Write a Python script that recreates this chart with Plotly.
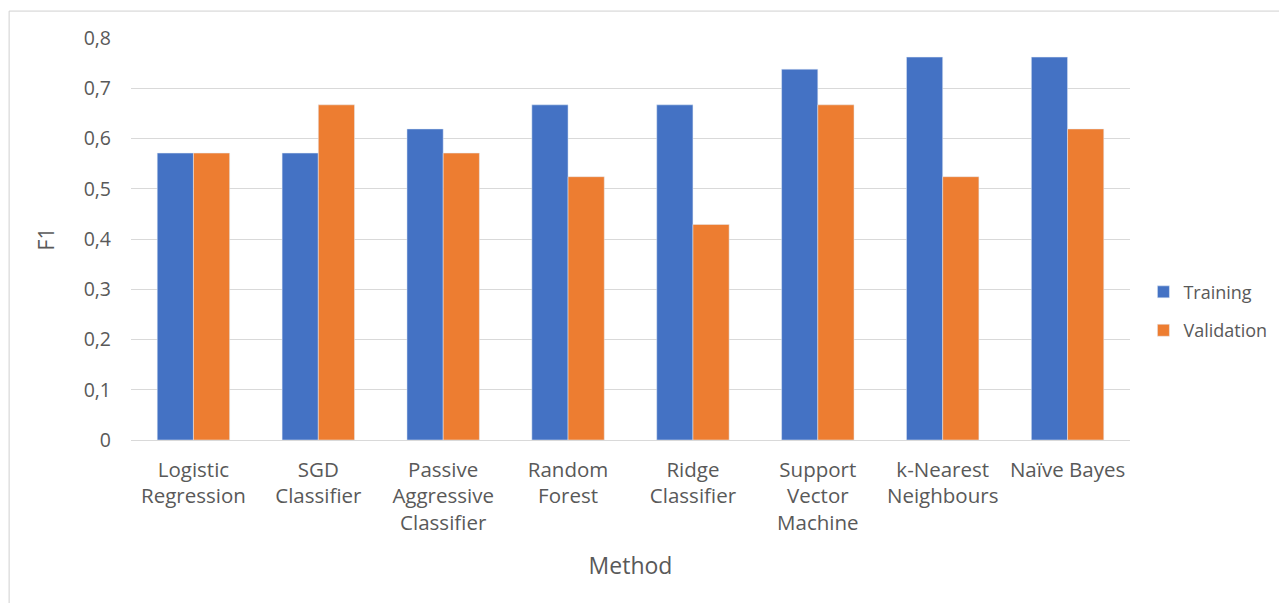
import plotly.graph_objects as go

methods = [
    "Logistic<br>Regression",
    "SGD<br>Classifier",
    "Passive<br>Aggressive<br>Classifier",
    "Random<br>Forest",
    "Ridge<br>Classifier",
    "Support<br>Vector<br>Machine",
    "k-Nearest<br>Neighbours",
    "Naïve Bayes",
]
training = [0.571, 0.571, 0.619, 0.667, 0.667, 0.738, 0.762, 0.762]
validation = [0.571, 0.667, 0.571, 0.524, 0.429, 0.667, 0.524, 0.619]

y_tickvals = [0, 0.1, 0.2, 0.3, 0.4, 0.5, 0.6, 0.7, 0.8]
y_ticktext = ["0", "0,1", "0,2", "0,3", "0,4", "0,5", "0,6", "0,7", "0,8"]

FONT = "Open Sans"
GREY = "#595959"

fig = go.Figure()
fig.add_trace(go.Bar(name="Training", x=methods, y=training,
                     marker_color="#4472C4", legendgroup="train"))
fig.add_trace(go.Bar(name="Validation", x=methods, y=validation,
                     marker_color="#ED7D31", legendgroup="valid"))

fig.update_layout(
    width=1279,
    height=603,
    barmode="group",
    bargap=0.42,
    bargroupgap=0,
    plot_bgcolor="white",
    paper_bgcolor="white",
    margin=dict(l=131, r=149, t=38, b=163, autoexpand=False),
    font=dict(family=FONT, color=GREY, size=18),
    legend=dict(
        xref="container", yref="container",
        x=0.894, y=0.484, xanchor="left", yanchor="middle",
        font=dict(size=18, color=GREY),
        itemwidth=30, tracegroupgap=12,
    ),
    showlegend=True,
)
fig.update_xaxes(
    title=dict(text="Method", font=dict(size=23, color=GREY), standoff=22),
    tickfont=dict(size=20.5, color=GREY),
    ticklabelstandoff=11,
    showline=True, linecolor="#d9d9d9", linewidth=1,
    ticks="",
)
fig.update_yaxes(
    title=dict(text="F1", font=dict(size=21, color=GREY), standoff=23),
    range=[0, 0.8],
    tickvals=y_tickvals,
    ticktext=y_ticktext,
    tickfont=dict(size=19.5, color=GREY),
    ticklabelstandoff=19,
    showgrid=True, gridcolor="#d9d9d9", gridwidth=1,
    zeroline=False,
    ticks="", ticklen=0,
)

# outer chart frame
fig.add_shape(
    type="rect", xref="paper", yref="paper",
    x0=-0.122, x1=1.3, y0=-1.0, y1=1.067,
    line=dict(color="#d0d0d0", width=1), fillcolor="rgba(0,0,0,0)",
    layer="below",
)

fig.write_html("out.html")
